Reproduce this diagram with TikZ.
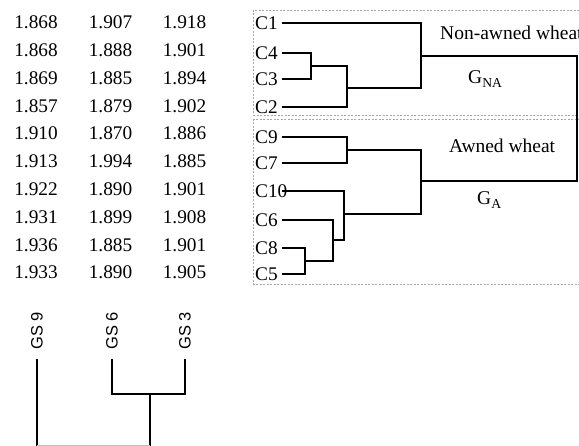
\documentclass[tikz,border=0pt]{standalone}
\usepackage{fontspec}
\setmainfont{Liberation Serif}
\newfontfamily\gsfont{Liberation Sans}
\begin{document}
\begin{tikzpicture}[x=1pt,y=-1pt,
  num/.style={font=\fontsize{19.3}{20}\selectfont, inner sep=0pt, anchor=center},
  leaf/.style={font=\fontsize{19.3}{20}\selectfont, inner sep=0pt, anchor=west},
  grp/.style={font=\fontsize{19.5}{20}\selectfont, inner sep=0pt, anchor=west},
  gs/.style={font=\gsfont\fontsize{16.5}{18}\selectfont, inner sep=0pt, rotate=90, anchor=center},
  br/.style={line width=1.5pt, black},
  clus/.style={draw=gray!70, line width=0.6pt, dash pattern=on 2pt off 1.5pt}]
\useasboundingbox (0,0) rectangle (579,446);
\clip (0,0) rectangle (579,446);
% numbers table
\foreach \a/\b/\c [count=\i from 0] in {1.868/1.907/1.918,1.868/1.888/1.901,1.869/1.885/1.894,1.857/1.879/1.902,1.910/1.870/1.886,1.913/1.994/1.885,1.922/1.890/1.901,1.931/1.899/1.908,1.936/1.885/1.901,1.933/1.890/1.905}{
  \node[num] (na\i) at (36,22.5+27.8*\i) {\a};
  \node[num] (nb\i) at (110.5,22.5+27.8*\i) {\b};
  \node[num] (nc\i) at (184.5,22.5+27.8*\i) {\c};
}
% cluster boxes
\draw[clus] (253,10) rectangle (640,115);
\draw[clus] (253,119) rectangle (640,284);
% leaf labels
\node[leaf] (C1) at (255,23) {C1};
\node[leaf] (C4) at (255,53) {C4};
\node[leaf] (C3) at (255,79) {C3};
\node[leaf] (C2) at (255,107) {C2};
\node[leaf] (C9) at (255,137) {C9};
\node[leaf] (C7) at (255,163) {C7};
\node[leaf] (C10) at (255,191) {C10};
\node[leaf] (C6) at (255,220) {C6};
\node[leaf] (C8) at (255,248) {C8};
\node[leaf] (C5) at (255,274) {C5};
% leaf line start points
\foreach \n/\y in {C1/23,C4/53,C3/79,C2/107,C9/137,C7/163,C10/191,C6/220,C8/248,C5/274}{
  \coordinate (s\n) at (282,\y);
}
% joins
\coordinate (j43) at (311,66);
\coordinate (j432) at (347,88);
\coordinate (jNA) at (421,56);
\coordinate (j97) at (347,150);
\coordinate (j85) at (305,261);
\coordinate (j856) at (333,240);
\coordinate (j85610) at (344,214);
\coordinate (jA) at (421,181);
\coordinate (root) at (577,118);
% tree non-awned
\draw[br] (sC4) -| (j43) (sC3) -| (j43);
\draw[br] (j43) -| (j432) (sC2) -| (j432);
\draw[br] (sC1) -| (jNA) (j432) -| (jNA);
% tree awned
\draw[br] (sC9) -| (j97) (sC7) -| (j97);
\draw[br] (sC8) -| (j85) (sC5) -| (j85);
\draw[br] (j85) -| (j856) (sC6) -| (j856);
\draw[br] (j856) -| (j85610) (sC10) -| (j85610);
\draw[br] (j97) -| (jA) (j85610) -| (jA);
% root
\draw[br] (jNA) -| (root) |- (jA);
% group labels
\node[grp] (lNA) at (440,33) {Non-awned wheat};
\node[grp] (gNA) at (468,79) {G\textsubscript{NA}};
\node[grp] (lA) at (449,146) {Awned wheat};
\node[grp] (gA) at (477,200) {G\textsubscript{A}};
% bottom dendrogram
\node[gs] (GS9) at (37,331) {GS 9};
\node[gs] (GS6) at (112,331) {GS 6};
\node[gs] (GS3) at (185,331) {GS 3};
\coordinate (t9) at (37,359);
\coordinate (t6) at (112,359);
\coordinate (t3) at (185,359);
\coordinate (j63) at (150,394);
\coordinate (jb) at (94,446);
\draw[br] (t6) |- (j63) (t3) |- (j63);
\draw[br] (j63) -- (j63 |- jb);
\draw[br] (t9) -- (t9 |- jb);
\draw[line width=1.5pt, gray!50] (t9 |- jb) -- (j63 |- jb);
\end{tikzpicture}
\end{document}
